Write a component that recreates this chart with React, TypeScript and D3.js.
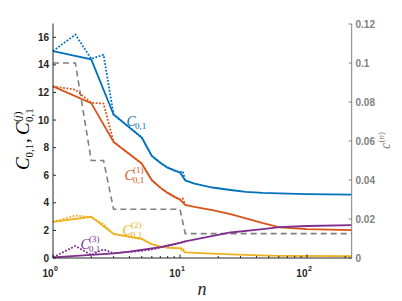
import React from "react"
import * as d3 from "d3"

// n values and curves (log n axis)
const c01N = [1, 2, 3, 5, 6, 7, 8, 9, 10, 11, 13, 18, 25, 33, 45, 60, 100, 225]
const c01 = [15.0, 14.4, 10.4, 8.73, 7.4, 6.9, 6.55, 6.35, 6.2, 5.62, 5.4, 5.11, 4.93, 4.8, 4.72, 4.68, 4.63, 4.6]

const c1N = [1, 2, 3, 5, 6, 7, 8, 9, 10, 11, 13, 18, 25, 33, 45, 61, 100, 225]
const c1 = [12.44, 11.23, 8.41, 6.85, 5.64, 5.1, 4.72, 4.45, 4.24, 3.85, 3.7, 3.47, 3.18, 2.87, 2.52, 2.22, 2.1, 2.02]

const c2N = [1, 2, 3, 5, 6, 7, 8, 10, 11, 18, 25, 43, 61, 225]
const c2 = [2.62, 2.99, 1.74, 1.38, 1.0, 0.82, 0.75, 0.7, 0.4, 0.32, 0.27, 0.19, 0.16, 0.13]

const c3N = [1, 2, 3, 4, 7, 10, 11, 25, 43, 61, 100, 225]
const c3 = [0.05, 0.22, 0.34, 0.46, 0.78, 1.1, 1.2, 1.85, 2.07, 2.24, 2.32, 2.39]

// dotted versions (half-step samples)
const dotN = [1, 1.5, 2, 2.5, 3, 5, 6, 7, 8, 9, 10, 10.5, 11]
const c01Dot = [15.0, 16.2, 14.44, 14.73, 10.4, 8.73, 7.4, 6.9, 6.55, 6.35, 6.2, 6.3, 5.62]
const c1Dot = [12.44, 12.2, 11.25, 11.2, 8.41, 6.85, 5.64, 5.1, 4.72, 4.45, 4.24, 4.32, 3.85]
const c2Dot = [2.62, 3.08, 2.95, 2.45, 1.74, 1.38, 1.0, 0.82, 0.75, 0.72, 0.7, 0.74, 0.4]
const c3Dot = [0.05, 0.87, 0.22, 0.63, 0.34, 0.52, 0.62, 0.78, 0.88, 1.0, 1.1, 1.15, 1.2]

// step size c^(n), right axis
const cnN = [1, 1.5, 2, 2.5, 3, 10, 11, 225]
const cn = [0.1, 0.1, 0.05, 0.05, 0.025, 0.025, 0.0125, 0.0125]

const leftTicks = [0, 2, 4, 6, 8, 10, 12, 14, 16]
const rightTicks = [0, 0.02, 0.04, 0.06, 0.08, 0.1, 0.12]
const xMajor = [1, 10, 100]
const xExp = ["0", "1", "2"]

const W = 402
const H = 301
const colors = { blue: "#0072BD", orange: "#D95319", yellow: "#EDB120", purple: "#7E2F8E", gray: "#808080" }
const axisCol = "#262626"

const App = () => {
    const x = d3.scaleLog().domain([1, 225]).range([53, 351.7])
    const yL = d3.scaleLinear().domain([0, 17]).range([258, 23.5])
    const yR = d3.scaleLinear().domain([0, 0.12]).range([258, 24])

    const lineL = (ns: number[], vs: number[]) =>
        d3.line<number>().x((d, i) => x(ns[i])).y(d => yL(d))(vs) || ""
    const lineR = d3.line<number>().x((d, i) => x(cnN[i])).y(d => yR(d))(cn) || ""

    // minor ticks on log axis
    const minor: number[] = []
    for (const dec of [1, 10, 100]) {
        for (let k = 2; k <= 9; k++) {
            if (dec * k <= 225) minor.push(dec * k)
        }
    }

    const serif = "'Liberation Serif', 'DejaVu Serif', serif"
    const sans = "'Liberation Sans', Arial, sans-serif"

    const label = (lx: number, ly: number, col: string, sup?: string) => (
        <g transform={`translate(${lx},${ly})`} fill={col} fontFamily={serif}>
            <text x={0} y={0} fontSize={14} fontStyle="italic">C</text>
            {sup && <text x={8.5} y={-7} fontSize={9}>{sup}</text>}
            <text x={8.5} y={3} fontSize={9}>0,1</text>
        </g>
    )

    return (
        <svg width={W} height={H} style={{ position: "absolute", left: 0, top: 0 }} fontFamily={sans}>
            {/* right axis series */}
            <path d={lineR} fill="none" stroke={colors.gray} strokeWidth={1.6} strokeDasharray="6,4" />

            {/* dotted */}
            <path d={lineL(dotN, c01Dot)} fill="none" stroke={colors.blue} strokeWidth={1.8} strokeDasharray="1.8,1.6" />
            <path d={lineL(dotN, c1Dot)} fill="none" stroke={colors.orange} strokeWidth={1.8} strokeDasharray="1.8,1.6" />
            <path d={lineL(dotN, c2Dot)} fill="none" stroke={colors.yellow} strokeWidth={1.8} strokeDasharray="1.8,1.6" />
            <path d={lineL(dotN, c3Dot)} fill="none" stroke={colors.purple} strokeWidth={1.8} strokeDasharray="1.8,1.6" />

            {/* solid */}
            <path d={lineL(c01N, c01)} fill="none" stroke={colors.blue} strokeWidth={1.8} />
            <path d={lineL(c1N, c1)} fill="none" stroke={colors.orange} strokeWidth={1.8} />
            <path d={lineL(c2N, c2)} fill="none" stroke={colors.yellow} strokeWidth={1.8} />
            <path d={lineL(c3N, c3)} fill="none" stroke={colors.purple} strokeWidth={1.8} />

            {/* curve labels */}
            {label(126.5, 126, colors.blue)}
            {label(124.5, 179.5, colors.orange, "(1)")}
            {label(122.5, 234.5, colors.yellow, "(2)")}
            {label(80.5, 249, colors.purple, "(3)")}

            {/* left axis */}
            <line x1={53} x2={53} y1={yL(17)} y2={258} stroke={axisCol} strokeWidth={1} />
            {leftTicks.map(t => (
                <g key={t}>
                    <line x1={53} x2={56} y1={yL(t)} y2={yL(t)} stroke={axisCol} />
                    <text x={49} y={yL(t) + 3.6} textAnchor="end" fontSize={10} fontWeight="bold" fill={axisCol}>{t}</text>
                </g>
            ))}

            {/* right axis */}
            <line x1={351.7} x2={351.7} y1={yR(0.12)} y2={258} stroke={colors.gray} strokeWidth={1} />
            {rightTicks.map(t => (
                <g key={t}>
                    <line x1={348.7} x2={351.7} y1={yR(t)} y2={yR(t)} stroke={colors.gray} />
                    <text x={355.5} y={yR(t) + 3.6} fontSize={10} fontWeight="bold" fill={colors.gray}>{String(t)}</text>
                </g>
            ))}

            {/* bottom axis */}
            <line x1={53} x2={351.7} y1={258} y2={258} stroke={axisCol} strokeWidth={1} />
            {minor.map(m => (
                <line key={m} x1={x(m)} x2={x(m)} y1={258} y2={256} stroke={axisCol} />
            ))}
            {xMajor.map((t, i) => (
                <g key={t}>
                    <line x1={x(t)} x2={x(t)} y1={258} y2={254.5} stroke={axisCol} />
                    <text x={x(t) + 0.5} y={276.5} textAnchor="end" fontSize={10} fontWeight="bold" fill={axisCol}>10</text>
                    <text x={x(t) + 1} y={271} fontSize={7} fontWeight="bold" fill={axisCol}>{xExp[i]}</text>
                </g>
            ))}

            {/* axis titles */}
            <text x={202} y={295} textAnchor="middle" fontFamily={serif} fontStyle="italic" fontSize={18} fill={axisCol}>n</text>

            <g transform="translate(29,140) rotate(-90)" fill="#000" fontFamily={serif}>
                <text x={-30} y={0} fontSize={19} fontStyle="italic">C</text>
                <text x={-17.5} y={4} fontSize={11}>0,1</text>
                <text x={-3} y={0} fontSize={19}>,</text>
                <text x={5} y={0} fontSize={19} fontStyle="italic">C</text>
                <text x={18} y={-8} fontSize={11}>(<tspan fontStyle="italic">j</tspan>)</text>
                <text x={18} y={4} fontSize={11}>0,1</text>
            </g>

            <g transform="translate(390,140) rotate(-90)" fill={colors.gray} fontFamily={serif}>
                <text x={-9} y={0} fontSize={14} fontStyle="italic">c</text>
                <text x={-2.5} y={-6} fontSize={9}>(<tspan fontStyle="italic">n</tspan>)</text>
            </g>
        </svg>
    )
}

export default App
